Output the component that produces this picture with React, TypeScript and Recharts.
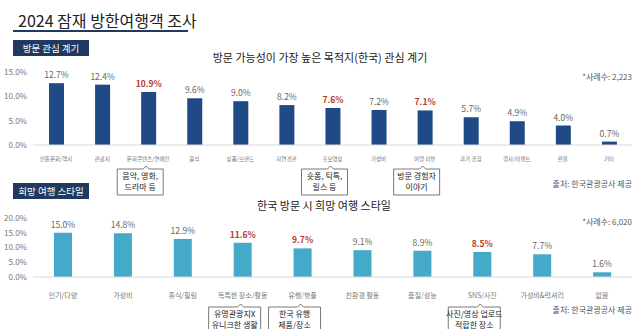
import React from "react";
import { Bar, BarChart, LabelList, XAxis, YAxis } from "recharts";

const FONT = '"Noto Sans CJK KR", "Noto Sans", sans-serif';
const NAVY = "#1f3a60";
const RED = "#b8392c";

// 방문 관심 계기
const interestCategories = [
  "전통문화/역사", "관광지", "문화콘텐츠/연예인", "음식", "상품/브랜드", "자연경관",
  "홍보영상", "가성비", "여행 리뷰", "과거 경험", "행사/이벤트", "환율", "기타",
];
const interestValues = [12.7, 12.4, 10.9, 9.6, 9.0, 8.2, 7.6, 7.2, 7.1, 5.7, 4.9, 4.0, 0.7];
const interestHighlight = ["문화콘텐츠/연예인", "홍보영상", "여행 리뷰"];
const interestCallouts: Record<string, string[]> = {
  "문화콘텐츠/연예인": ["음악, 영화,", "드라마 등"],
  "홍보영상": ["숏폼, 틱톡,", "릴스 등"],
  "여행 리뷰": ["방문 경험자", "이야기"],
};
const interestTicks = [0, 5, 10, 15];

// 희망 여행 스타일
const styleCategories = [
  "인기/다양", "가성비", "휴식/힐링", "독특한 장소/활동", "유행/핫플",
  "친환경 활동", "품질/성능", "SNS/사진", "가성비&럭셔리", "없음",
];
const styleValues = [15.0, 14.8, 12.9, 11.6, 9.7, 9.1, 8.9, 8.5, 7.7, 1.6];
const styleHighlight = ["독특한 장소/활동", "유행/핫플", "SNS/사진"];
const styleCallouts: Record<string, string[]> = {
  "독특한 장소/활동": ["유명관광지X", "유니크한 생활"],
  "유행/핫플": ["한국 유행", "제품/장소"],
  "SNS/사진": ["사진/영상 업로드", "적합한 장소"],
};
const styleTicks = [0, 5, 10, 15, 20];

const interestData = interestCategories.map((name, i) => ({ name, value: interestValues[i] }));
const styleData = styleCategories.map((name, i) => ({ name, value: styleValues[i] }));

function Callout({ cx, top, lines, w }: { cx: number; top: number; lines: string[]; w: number }) {
  const bx = cx - 8 - w / 2;
  const h = 26;
  const nx = cx - 2;
  const path = `M${bx},${top} L${nx - 3},${top} L${nx},${top - 3} L${nx + 3},${top} L${bx + w},${top} L${bx + w},${top + h} L${bx},${top + h} Z`;
  return (
    <g>
      <path d={path} fill="#fff" stroke="#555" strokeWidth={0.8} />
      {lines.map((l, i) => (
        <text key={i} x={bx + w / 2} y={top + 7.5 + i * 11} textAnchor="middle" dominantBaseline="middle" fontSize={8} fill="#222" fontFamily={FONT}>
          {l}
        </text>
      ))}
    </g>
  );
}

function makeTick(callouts: Record<string, string[]>, labelDy: number, fontSize: number, boxDy: number, boxW: number) {
  return (props: any) => {
    const { x, y, payload } = props;
    const lines = callouts[payload.value];
    return (
      <g>
        <text x={x} y={y + labelDy} textAnchor="middle" dominantBaseline="middle" fontSize={fontSize} fill="#777" fontFamily={FONT}>
          {payload.value}
        </text>
        {lines && <Callout cx={x} top={y + boxDy} lines={lines} w={boxW} />}
      </g>
    );
  };
}

function makeLabel(categories: string[], highlight: string[]) {
  return (props: any) => {
    const { x, y, width, value, index } = props;
    const hot = highlight.includes(categories[index]);
    return (
      <text
        x={x + width / 2}
        y={y - 5}
        textAnchor="middle"
        fontSize={8.5}
        fontWeight={hot ? 700 : 400}
        fill={hot ? RED : "#666"}
        fontFamily={FONT}
      >
        {value.toFixed(1)}%
      </text>
    );
  };
}

const pct = (v: number) => `${v.toFixed(1)}%`;

function SectionTag({ top, text }: { top: number; text: string }) {
  return (
    <div
      style={{
        position: "absolute", left: 13, top, width: 76, height: 16, background: NAVY, color: "#fff",
        fontSize: 9.5, lineHeight: "16px", textAlign: "center",
      }}
    >
      {text}
    </div>
  );
}

function SmallNote({ top, text }: { top: number; text: string }) {
  return (
    <div style={{ position: "absolute", right: 8, top, fontSize: 8, color: "#555", whiteSpace: "nowrap" }}>{text}</div>
  );
}

export default function App() {
  return (
    <div style={{ position: "absolute", left: 0, top: 0, width: 640, height: 329, background: "#fff", fontFamily: FONT, overflow: "hidden" }}>
      <div style={{ position: "absolute", left: 18, top: 8, fontSize: 16, color: "#222", whiteSpace: "nowrap" }}>
        2024 잠재 방한여행객 조사
      </div>
      <div style={{ position: "absolute", left: 13, top: 30, width: 175, height: 1.5, background: NAVY }} />

      <SectionTag top={40} text="방문 관심 계기" />
      <div style={{ position: "absolute", left: 0, width: 640, top: 49, textAlign: "center", fontSize: 11, color: "#222" }}>
        방문 가능성이 가장 높은 목적지(한국) 관심 계기
      </div>
      <SmallNote top={71} text="*사례수: 2,223" />

      <div style={{ position: "absolute", left: 0, top: 60 }}>
        <BarChart width={640} height={140} data={interestData} margin={{ top: 12, right: 8, bottom: 0, left: 0 }}>
          <YAxis
            width={33}
            domain={[0, 15]}
            ticks={interestTicks}
            tickFormatter={pct}
            axisLine={false}
            tickLine={false}
            tickMargin={0}
            tick={{ fontSize: 8, fill: "#777", fontFamily: FONT }}
          />
          <XAxis
            dataKey="name"
            height={55}
            interval={0}
            tickLine={false}
            axisLine={{ stroke: "#d9d9d9" }}
            tick={makeTick(interestCallouts, 6, 5.5, 16, 46)}
          />
          <Bar dataKey="value" fill="#1f4a85" barSize={15} isAnimationActive={false}>
            <LabelList dataKey="value" content={makeLabel(interestCategories, interestHighlight)} />
          </Bar>
        </BarChart>
      </div>
      <SmallNote top={178} text="출처: 한국관광공사 제공" />

      <SectionTag top={183} text="희망 여행 스타일" />
      <div style={{ position: "absolute", left: 0, width: 648, top: 197, textAlign: "center", fontSize: 11, color: "#222" }}>
        한국 방문 시 희망 여행 스타일
      </div>
      <SmallNote top={216} text="*사례수: 6,020" />

      <div style={{ position: "absolute", left: 0, top: 205 }}>
        <BarChart width={640} height={124} data={styleData} margin={{ top: 13, right: 8, bottom: 0, left: 0 }}>
          <YAxis
            width={33}
            domain={[0, 20]}
            ticks={styleTicks}
            tickFormatter={pct}
            axisLine={false}
            tickLine={false}
            tickMargin={0}
            tick={{ fontSize: 8, fill: "#777", fontFamily: FONT }}
          />
          <XAxis
            dataKey="name"
            height={52}
            interval={0}
            tickLine={false}
            axisLine={{ stroke: "#d9d9d9" }}
            tick={makeTick(styleCallouts, 11, 7, 22, 52)}
          />
          <Bar dataKey="value" fill="#45a9c9" barSize={18} isAnimationActive={false}>
            <LabelList dataKey="value" content={makeLabel(styleCategories, styleHighlight)} />
          </Bar>
        </BarChart>
      </div>
      <SmallNote top={304} text="출처: 한국관광공사 제공" />
    </div>
  );
}
